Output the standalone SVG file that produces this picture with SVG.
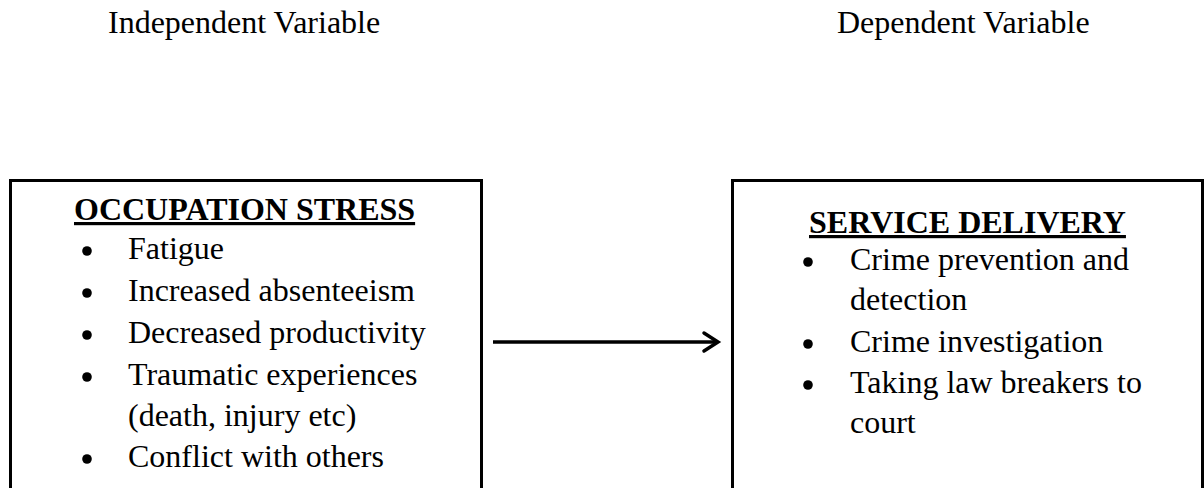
<svg xmlns="http://www.w3.org/2000/svg" width="1204" height="488" viewBox="0 0 1204 488">
<style>
text { font-family: "Liberation Serif", "Times New Roman", serif; fill: #000; }
.h { font-size: 32px; }
.t { font-size: 32px; font-weight: bold; text-decoration: underline; }
.i { font-size: 32px; }
.box { fill: #fff; stroke: #000; stroke-width: 3; }
.conn { stroke: #000; stroke-width: 3.5; fill: none; }
circle { fill: #000; }
</style>
<rect width="1204" height="488" fill="#fff"/>
<g id="labels">
<text class="h" x="108" y="33">Independent Variable</text>
<text class="h" x="837" y="33">Dependent Variable</text>
</g>
<g id="connectors">
<line class="conn" x1="493" y1="342" x2="717" y2="342"/>
<polyline class="conn" points="704,333 718,342 704,351" stroke-width="4" stroke-linejoin="miter" stroke-linecap="round"/>
</g>
<g id="occupation-stress">
<rect class="box" x="10.5" y="180.5" width="471" height="320"/>
<text class="t" x="74" y="220">OCCUPATION STRESS</text>
<circle cx="87" cy="251" r="4.8"/>
<text class="i" x="128" y="259">Fatigue</text>
<circle cx="87" cy="293" r="4.8"/>
<text class="i" x="128" y="301">Increased absenteeism</text>
<circle cx="87" cy="335" r="4.8"/>
<text class="i" x="128" y="343">Decreased productivity</text>
<circle cx="87" cy="377" r="4.8"/>
<text class="i" x="128" y="385">Traumatic experiences</text>
<text class="i" x="128" y="426">(death, injury etc)</text>
<circle cx="87" cy="459" r="4.8"/>
<text class="i" x="128" y="467">Conflict with others</text>
</g>
<g id="service-delivery">
<rect class="box" x="732.5" y="180.5" width="470" height="320"/>
<text class="t" x="809" y="233">SERVICE DELIVERY</text>
<circle cx="808" cy="262" r="4.8"/>
<text class="i" x="850" y="270">Crime prevention and</text>
<text class="i" x="850" y="310">detection</text>
<circle cx="808" cy="344" r="4.8"/>
<text class="i" x="850" y="352">Crime investigation</text>
<circle cx="808" cy="385" r="4.8"/>
<text class="i" x="850" y="393">Taking law breakers to</text>
<text class="i" x="850" y="433">court</text>
</g>
</svg>
